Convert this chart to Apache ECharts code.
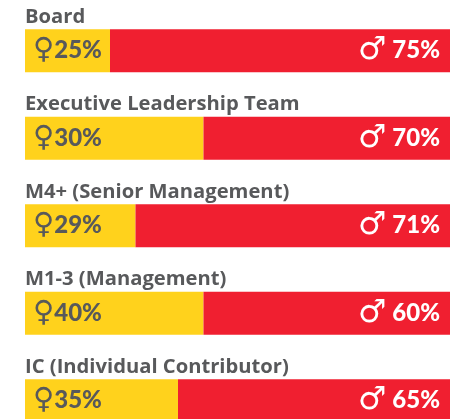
<!DOCTYPE html>
<html>
    <head>
        <meta charset="utf-8">
        <script src="https://cdn.jsdelivr.net/npm/echarts@6/dist/echarts.min.js"></script>
        <style>
            html, body, #main {
                width: 100%;
                height: 100%;
                margin: 0;
                background: #fff;
                overflow: hidden;
            }
        </style>
    </head>
    <body>
        <div id="main"></div>
        <script>
            var categories = ['Board', 'Executive Leadership Team', 'M4+ (Senior Management)', 'M1-3 (Management)', 'IC (Individual Contributor)'];
            // printed numbers
            var femaleLabels = [25, 30, 29, 40, 35];
            var maleLabels = [75, 70, 71, 60, 65];
            // segment lengths as drawn in the picture, they do not follow the printed numbers
            var femaleDrawn = [20, 42, 26, 42, 36];
            var maleDrawn = [80, 58, 74, 58, 64];

            var grey = '#58595b';
            var font = 'Lato';
            var chart = echarts.init(document.getElementById('main'));
            chart.setOption({
                animation: false,
                grid: { left: 25, top: 7, width: 425, height: 437.5, outerBoundsMode: 'none' },
                xAxis: { type: 'value', min: 0, max: 100, show: false },
                yAxis: {
                    type: 'category',
                    inverse: true,
                    data: categories,
                    axisLine: { show: false },
                    axisTick: { show: false },
                    axisLabel: {
                        inside: true,
                        margin: 0,
                        align: 'left',
                        verticalAlign: 'bottom',
                        padding: [0, 0, 24, 0],
                        color: grey,
                        fontFamily: 'Open Sans',
                        fontWeight: 'bold',
                        fontSize: 20.2
                    },
                    z: 5
                },
                series: [
                    {
                        type: 'bar',
                        stack: 'share',
                        barWidth: 43,
                        itemStyle: { color: '#ffd21c' },
                        data: femaleDrawn,
                        label: {
                            show: true,
                            position: 'insideLeft',
                            distance: 8,
                            formatter: function (p) {
                                return '{icon|\u2640}{num|' + femaleLabels[p.dataIndex] + '%}';
                            },
                            rich: {
                                icon: { fontFamily: 'DejaVu Sans', fontSize: 29, color: grey },
                                num: { fontFamily: font, fontWeight: 900, fontSize: 24, color: grey }
                            }
                        }
                    },
                    {
                        type: 'bar',
                        stack: 'share',
                        barWidth: 43,
                        itemStyle: { color: '#f01f30' },
                        data: maleDrawn,
                        label: {
                            show: true,
                            position: 'insideRight',
                            distance: 10,
                            formatter: function (p) {
                                return '{icon|\u2642}{num| ' + maleLabels[p.dataIndex] + '%}';
                            },
                            rich: {
                                icon: { fontFamily: 'DejaVu Sans', fontSize: 32, color: '#fff' },
                                num: { fontFamily: font, fontWeight: 900, fontSize: 24, color: '#fff' }
                            }
                        }
                    }
                ]
            });
            window.onresize = chart.resize;
        </script>
    </body>
</html>
